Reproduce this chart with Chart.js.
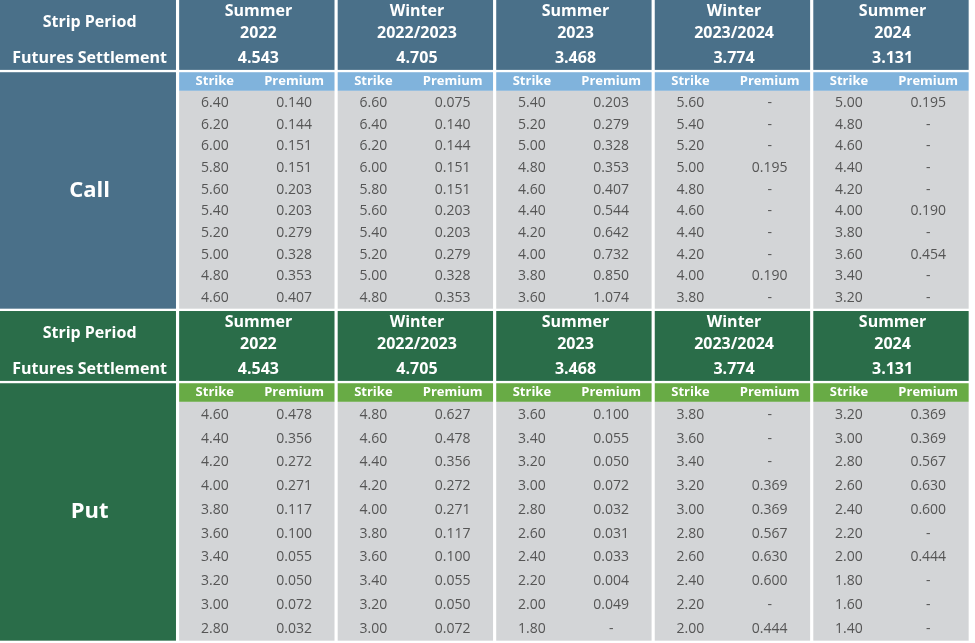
<!DOCTYPE html>
<html>
<head>
<meta charset="utf-8">
<script src="https://cdn.jsdelivr.net/npm/chart.js@4.4.0/dist/chart.umd.min.js"></script>
<style>
  html, body { margin: 0; padding: 0; background: #fff; }
  #wrap { width: 975px; height: 643px; position: relative; }
</style>
</head>
<body>
<div id="wrap"><canvas id="table"></canvas></div>
<script>
// Option strip data
const periodsTop = ['Summer', 'Winter', 'Summer', 'Winter', 'Summer'];
const periodsBottom = ['2022', '2022/2023', '2023', '2023/2024', '2024'];
const settlements = ['4.543', '4.705', '3.468', '3.774', '3.131'];

const callStrikes = [
    ['6.40', '6.20', '6.00', '5.80', '5.60', '5.40', '5.20', '5.00', '4.80', '4.60'],
    ['6.60', '6.40', '6.20', '6.00', '5.80', '5.60', '5.40', '5.20', '5.00', '4.80'],
    ['5.40', '5.20', '5.00', '4.80', '4.60', '4.40', '4.20', '4.00', '3.80', '3.60'],
    ['5.60', '5.40', '5.20', '5.00', '4.80', '4.60', '4.40', '4.20', '4.00', '3.80'],
    ['5.00', '4.80', '4.60', '4.40', '4.20', '4.00', '3.80', '3.60', '3.40', '3.20']
];
const callPremiums = [
    ['0.140', '0.144', '0.151', '0.151', '0.203', '0.203', '0.279', '0.328', '0.353', '0.407'],
    ['0.075', '0.140', '0.144', '0.151', '0.151', '0.203', '0.203', '0.279', '0.328', '0.353'],
    ['0.203', '0.279', '0.328', '0.353', '0.407', '0.544', '0.642', '0.732', '0.850', '1.074'],
    ['-', '-', '-', '0.195', '-', '-', '-', '-', '0.190', '-'],
    ['0.195', '-', '-', '-', '-', '0.190', '-', '0.454', '-', '-']
];
const putStrikes = [
    ['4.60', '4.40', '4.20', '4.00', '3.80', '3.60', '3.40', '3.20', '3.00', '2.80'],
    ['4.80', '4.60', '4.40', '4.20', '4.00', '3.80', '3.60', '3.40', '3.20', '3.00'],
    ['3.60', '3.40', '3.20', '3.00', '2.80', '2.60', '2.40', '2.20', '2.00', '1.80'],
    ['3.80', '3.60', '3.40', '3.20', '3.00', '2.80', '2.60', '2.40', '2.20', '2.00'],
    ['3.20', '3.00', '2.80', '2.60', '2.40', '2.20', '2.00', '1.80', '1.60', '1.40']
];
const putPremiums = [
    ['0.478', '0.356', '0.272', '0.271', '0.117', '0.100', '0.055', '0.050', '0.072', '0.032'],
    ['0.627', '0.478', '0.356', '0.272', '0.271', '0.117', '0.100', '0.055', '0.050', '0.072'],
    ['0.100', '0.055', '0.050', '0.072', '0.032', '0.031', '0.033', '0.004', '0.049', '-'],
    ['-', '-', '-', '0.369', '0.369', '0.567', '0.630', '0.600', '-', '0.444'],
    ['0.369', '0.369', '0.567', '0.630', '0.600', '-', '0.444', '-', '-', '-']
];

// Layout in scale units
const LABEL_W = 2.26;
const sections = [
    { name: 'Call', strikes: callStrikes, prem: callPremiums, top: 0, rowH: 0.93,
      head: '#4a7089', sub: '#80b3dc' },
    { name: 'Put', strikes: putStrikes, prem: putPremiums, top: 13.35, rowH: 1.02,
      head: '#2a6d49', sub: '#68ab45' }
];

const FONT = "'Open Sans', Lato, sans-serif";

const tablePlugin = {
    id: 'tablePlugin',
    beforeDraw(chart) {
        const ctx = chart.ctx;
        const xs = chart.scales.x, ys = chart.scales.y;
        const px = v => xs.getPixelForValue(v);
        const py = v => ys.getPixelForValue(v);
        const rect = (x0, y0, x1, y1, color) => {
            ctx.fillStyle = color;
            ctx.fillRect(px(x0), py(y0), px(x1) - px(x0), py(y1) - py(y0));
        };
        const text = (s, x, y, font, color, align) => {
            ctx.font = font;
            ctx.fillStyle = color;
            ctx.textAlign = align || 'center';
            ctx.textBaseline = 'middle';
            ctx.fillText(s, px(x), py(y));
        };
        const gap = 0.04;
        sections.forEach(sec => {
            const t = sec.top;
            const subTop = t + 3.1, subBot = t + 3.9;
            const dataTop = t + 3.95, dataBot = dataTop + 10 * sec.rowH;
            // label column
            rect(0, t, LABEL_W - gap, t + 3, sec.head);
            rect(0, subTop, LABEL_W - gap, dataBot, sec.head);
            text('Strip Period', LABEL_W / 2, t + 0.95, 'bold 16px ' + FONT, '#fff');
            text('Futures Settlement', LABEL_W / 2, t + 2.5, 'bold 16px ' + FONT, '#fff');
            text(sec.name, LABEL_W / 2, (subTop + dataBot) / 2, 'bold 22px ' + FONT, '#fff');
            for (let g = 0; g < 5; g++) {
                const x0 = LABEL_W + 2 * g, x1 = x0 + 2 - gap;
                rect(x0, t, x1, t + 3, sec.head);
                rect(x0, subTop, x1, subBot, sec.sub);
                rect(x0, subBot, x1, dataBot, '#d3d5d7');
                const mid = x0 + 1;
                text(periodsTop[g], mid, t + 0.5, 'bold 16px ' + FONT, '#fff');
                text(periodsBottom[g], mid, t + 1.45, 'bold 16px ' + FONT, '#fff');
                text(settlements[g], mid, t + 2.5, 'bold 16px ' + FONT, '#fff');
                text('Strike', x0 + 0.45, (subTop + subBot) / 2, 'bold 13px ' + FONT, '#fff');
                text('Premium', x0 + 1.45, (subTop + subBot) / 2, 'bold 13px ' + FONT, '#fff');
                for (let r = 0; r < 10; r++) {
                    const cy = dataTop + (r + 0.5) * sec.rowH;
                    text(sec.strikes[g][r], x0 + 0.45, cy, '14px ' + FONT, '#555');
                    text(sec.prem[g][r], x0 + 1.45, cy, '14px ' + FONT, '#555');
                }
            }
        });
    }
};

new Chart(document.getElementById('table'), {
    type: 'scatter',
    data: { datasets: [{ data: [] }] },
    options: {
        responsive: true,
        maintainAspectRatio: false,
        animation: false,
        layout: { padding: 0 },
        plugins: { legend: { display: false }, tooltip: { enabled: false } },
        scales: {
            x: { type: 'linear', min: 0, max: 12.3, display: false },
            y: { type: 'linear', min: 0, max: 27.6, reverse: true, display: false }
        }
    },
    plugins: [tablePlugin]
});
</script>
</body>
</html>
